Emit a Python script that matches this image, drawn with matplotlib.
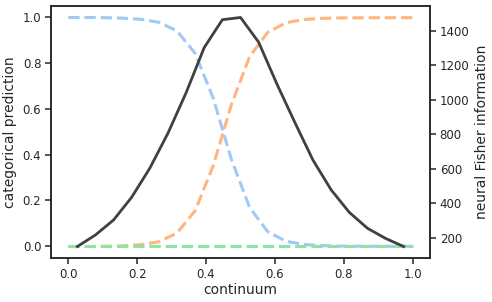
import numpy as np
import matplotlib
matplotlib.use("Agg")
import matplotlib.pyplot as plt

# continuum sample points for the categorical predictions
x_pred = [0.0, 0.0526, 0.1053, 0.1579, 0.2105, 0.2632, 0.3158, 0.3684, 0.4211, 0.4737,
          0.5263, 0.5789, 0.6316, 0.6842, 0.7368, 0.7895, 0.8421, 0.8947, 0.9474, 1.0]
pred_a = [0.999, 0.999, 0.998, 0.996, 0.991, 0.978, 0.940, 0.842, 0.645, 0.379,
          0.170, 0.064, 0.022, 0.008, 0.003, 0.001, 0.0005, 0.0002, 0.0001, 0.0]
pred_c = [0.002, 0.002, 0.002, 0.002, 0.002, 0.002, 0.002, 0.002, 0.002, 0.002,
          0.002, 0.002, 0.002, 0.002, 0.002, 0.002, 0.002, 0.002, 0.002, 0.002]
pred_b = [round(1 - a - c, 4) for a, c in zip(pred_a, pred_c)]

# continuum midpoints for the Fisher information
x_fi = [0.0263, 0.0789, 0.1316, 0.1842, 0.2368, 0.2895, 0.3421, 0.3947, 0.4474, 0.5,
        0.5526, 0.6053, 0.6579, 0.7105, 0.7632, 0.8158, 0.8684, 0.9211, 0.9737]
fisher = [150, 217, 304, 436, 604, 807, 1041, 1303, 1464, 1477,
          1334, 1093, 868, 650, 478, 348, 256, 197, 150]

fig = plt.figure(figsize=(4.92, 3.02), dpi=100)
ax = fig.add_axes([0.1037, 0.1457, 0.7703, 0.8344])
ax2 = ax.twinx()

ax.plot(x_pred, pred_a, ls=(0, (3.7, 1.6)), color="#a1c9f4", lw=2.2)
ax.plot(x_pred, pred_b, ls=(0, (3.7, 1.6)), color="#ffb482", lw=2.2)
ax.plot(x_pred, pred_c, ls=(0, (3.7, 1.6)), color="#8de5a1", lw=2.2)
ax2.plot(x_fi, fisher, color="#404040", lw=2.0)

ax.set_xticks([0.0, 0.2, 0.4, 0.6, 0.8, 1.0])
ax.set_yticks([0.0, 0.2, 0.4, 0.6, 0.8, 1.0])
ax2.set_yticks([200, 400, 600, 800, 1000, 1200, 1400])
ax.set_xlabel("continuum", fontsize=10, color="#262626", labelpad=2)
ax.set_ylabel("categorical prediction", fontsize=10, color="#262626", labelpad=4)
ax2.set_ylabel("neural Fisher information", fontsize=10, color="#262626", labelpad=4)

for a in (ax, ax2):
    a.tick_params(labelsize=8.5, colors="#262626", length=4, width=1.1, pad=3)
    for s in a.spines.values():
        s.set_color("#262626")
        s.set_linewidth(1.1)

fig.savefig("out.png", dpi=100)
